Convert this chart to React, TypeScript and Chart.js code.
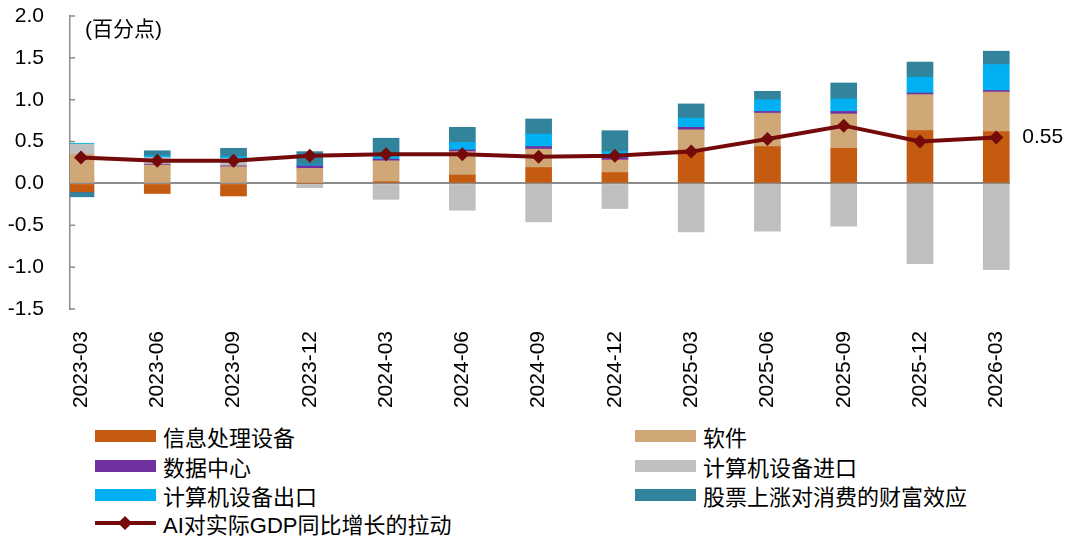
import { useEffect, useRef } from 'react'
import { Chart, registerables, Plugin } from 'chart.js'

Chart.register(...registerables)

const FONT = "'Liberation Sans', Arial, 'Noto Sans CJK SC', sans-serif"

const LABELS = [
  '2023-03', '2023-06', '2023-09', '2023-12',
  '2024-03', '2024-06', '2024-09', '2024-12',
  '2025-03', '2025-06', '2025-09', '2025-12', '2026-03',
]

// contribution of each component, percentage points
const INFO_EQUIP = [-0.10, -0.12, -0.15, 0.00, 0.02, 0.10, 0.19, 0.13, 0.40, 0.44, 0.42, 0.63, 0.62]
const SOFTWARE = [0.35, 0.22, 0.20, 0.18, 0.25, 0.28, 0.22, 0.15, 0.24, 0.40, 0.41, 0.43, 0.47]
const DATA_CENTER = [0.00, 0.01, 0.01, 0.03, 0.02, 0.02, 0.03, 0.03, 0.03, 0.02, 0.03, 0.02, 0.02]
const IMPORTS = [0.12, 0.08, 0.09, -0.05, -0.19, -0.32, -0.46, -0.30, -0.58, -0.57, -0.51, -0.96, -1.03]
const EXPORTS = [0.01, 0.02, 0.02, 0.01, 0.04, 0.09, 0.15, 0.07, 0.11, 0.14, 0.15, 0.19, 0.31]
const WEALTH = [-0.06, 0.06, 0.10, 0.16, 0.21, 0.18, 0.18, 0.25, 0.17, 0.10, 0.19, 0.18, 0.16]
const GDP_PULL = [0.31, 0.27, 0.27, 0.33, 0.35, 0.35, 0.32, 0.33, 0.38, 0.53, 0.69, 0.50, 0.55]

const Y_TICKS = [2.0, 1.5, 1.0, 0.5, 0.0, -0.5, -1.0, -1.5]

const BAR_SERIES = [
  { label: '信息处理设备', data: INFO_EQUIP, color: '#C55A11' },
  { label: '软件', data: SOFTWARE, color: '#D0A878' },
  { label: '数据中心', data: DATA_CENTER, color: '#7030A0' },
  { label: '计算机设备进口', data: IMPORTS, color: '#BFBFBF' },
  { label: '计算机设备出口', data: EXPORTS, color: '#00B0F0' },
  { label: '股票上涨对消费的财富效应', data: WEALTH, color: '#31849B' },
]
const LINE_LABEL = 'AI对实际GDP同比增长的拉动'
const LINE_COLOR = '#750A0A'

// legend layout: [column, row]
const LEGEND_POS: [number, number][] = [[0, 0], [1, 0], [0, 1], [1, 1], [0, 2], [1, 2]]
const LEGEND_COL_X = [95, 635]
const LEGEND_ROW_Y = [436, 466, 495, 523]

const extras: Plugin = {
  id: 'extras',
  beforeDatasetsDraw(chart) {
    const { ctx, chartArea, scales } = chart
    const x = scales.x
    const y = scales.y
    const zero = y.getPixelForValue(0)
    ctx.save()
    ctx.strokeStyle = '#8C8C8C'
    ctx.lineWidth = 1.5
    // small category ticks on the zero line
    for (let i = 1; i < LABELS.length; i++) {
      const px = x.getPixelForValue(i - 0.144)
      ctx.beginPath()
      ctx.moveTo(px, zero)
      ctx.lineTo(px, zero - 6)
      ctx.stroke()
    }
    // inside ticks on the value axis
    for (const v of Y_TICKS) {
      const py = y.getPixelForValue(v)
      ctx.beginPath()
      ctx.moveTo(chartArea.left, py)
      ctx.lineTo(chartArea.left + 5, py)
      ctx.stroke()
    }
    ctx.restore()
  },
  afterDraw(chart) {
    const { ctx, chartArea, scales } = chart
    ctx.save()
    ctx.fillStyle = '#000'
    ctx.font = `21px ${FONT}`
    ctx.textBaseline = 'middle'
    ctx.textAlign = 'left'
    ctx.fillText('(百分点)', chartArea.left + 15, chartArea.top + 14)
    const last = GDP_PULL.length - 1
    const px = scales.x.getPixelForValue(last)
    const py = scales.y.getPixelForValue(GDP_PULL[last])
    ctx.fillText(GDP_PULL[last].toFixed(2), px + 26, py)
    ctx.restore()
  },
}

export default function App() {
  const canvasRef = useRef<HTMLCanvasElement>(null)
  const chartRef = useRef<Chart | null>(null)

  useEffect(() => {
    if (!canvasRef.current) return
    if (chartRef.current) chartRef.current.destroy()

    Chart.defaults.font.family = FONT
    Chart.defaults.color = '#000'

    chartRef.current = new Chart(canvasRef.current, {
      type: 'bar',
      data: {
        datasets: [
          {
            type: 'line',
            label: LINE_LABEL,
            data: GDP_PULL.map((v, i) => ({ x: i, y: v })),
            borderColor: LINE_COLOR,
            backgroundColor: LINE_COLOR,
            borderWidth: 4,
            pointStyle: 'rectRot',
            pointRadius: 7,
            pointBorderWidth: 0,
            stack: 'line',
            order: 0,
          },
          ...BAR_SERIES.map(s => ({
            type: 'bar' as const,
            label: s.label,
            data: s.data.map((v, i) => ({ x: i, y: v })),
            backgroundColor: s.color,
            borderWidth: 0,
            barThickness: 26,
            stack: 'bars',
            order: 1,
          })),
        ],
      },
      options: {
        animation: false,
        responsive: false,
        maintainAspectRatio: false,
        layout: { padding: { top: 16, left: 0, right: 70, bottom: 0 } },
        plugins: {
          legend: { display: false },
          tooltip: { enabled: false },
        },
        scales: {
          x: {
            type: 'linear',
            stacked: true,
            offset: false,
            min: -0.144,
            max: 12.18,
            afterBuildTicks: axis => {
              axis.ticks = LABELS.map((_, i) => ({ value: i }))
            },
            afterFit: axis => {
              axis.height = 111
            },
            grid: { display: false, offset: false },
            border: { display: false },
            ticks: {
              callback: v => LABELS[Number(v)] ?? '',
              autoSkip: false,
              minRotation: 90,
              maxRotation: 90,
              padding: 14,
              font: { size: 21 },
              color: '#000',
            },
          },
          y: {
            stacked: true,
            min: -1.5,
            max: 2.0,
            afterBuildTicks: axis => {
              axis.ticks = Y_TICKS.map(v => ({ value: v }))
            },
            afterFit: axis => {
              axis.width = 70
            },
            grid: {
              drawTicks: true,
              tickLength: 26,
              tickColor: 'rgba(0,0,0,0)',
              color: c => (c.tick && c.tick.value === 0 ? '#8C8C8C' : 'rgba(0,0,0,0)'),
              lineWidth: 2,
            },
            border: { color: '#8C8C8C', width: 1.5 },
            ticks: {
              callback: v => Number(v).toFixed(1),
              padding: 0,
              font: { size: 21 },
              color: '#000',
            },
          },
        },
      },
      plugins: [extras],
    })

    return () => {
      if (chartRef.current) {
        chartRef.current.destroy()
        chartRef.current = null
      }
    }
  }, [])

  const textStyle = { fontFamily: FONT, fontSize: 22, color: '#000', whiteSpace: 'nowrap' as const }

  return (
    <div style={{ position: 'absolute', left: 0, top: 0, width: 1080, height: 541, background: '#fff' }}>
      <canvas ref={canvasRef} width={1080} height={420} style={{ position: 'absolute', left: 0, top: 0 }} />
      {BAR_SERIES.map((s, i) => {
        const [col, row] = LEGEND_POS[i]
        return (
          <div key={s.label}
            style={{ position: 'absolute', left: LEGEND_COL_X[col], top: LEGEND_ROW_Y[row] - 14, height: 28, display: 'flex', alignItems: 'center' }}>
            <div style={{ width: 61, height: 12, background: s.color, marginRight: 7 }} />
            <span style={textStyle}>{s.label}</span>
          </div>
        )
      })}
      <div style={{ position: 'absolute', left: LEGEND_COL_X[0], top: LEGEND_ROW_Y[3] - 14, height: 28, display: 'flex', alignItems: 'center' }}>
        <div style={{ position: 'relative', width: 61, height: 12, marginRight: 7 }}>
          <div style={{ position: 'absolute', left: 0, right: 0, top: 4, height: 4, background: LINE_COLOR }} />
          <div style={{ position: 'absolute', left: 25, top: 1, width: 10, height: 10, background: LINE_COLOR, transform: 'rotate(45deg)' }} />
        </div>
        <span style={textStyle}>{LINE_LABEL}</span>
      </div>
    </div>
  )
}
